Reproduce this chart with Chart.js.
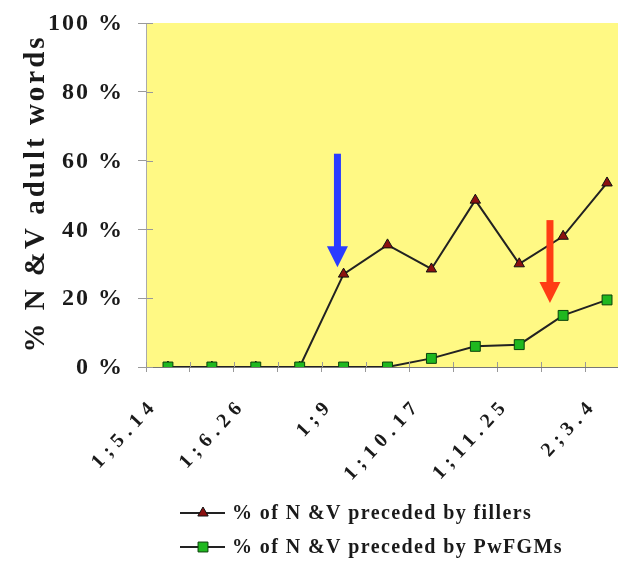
<!DOCTYPE html>
<html><head><meta charset="utf-8">
<script src="https://cdn.jsdelivr.net/npm/chart.js@4"></script>
<style>html,body{margin:0;padding:0;background:#fff;overflow:hidden;width:618px;height:565px}canvas{display:block}</style>
</head><body>
<canvas id="c" width="637" height="565"></canvas>
<script>
const categories = ['1;5.14','','1;6.26','','1;9','','1;10.17','','1;11.25','','2;3.4'];
const fillers = [0,0,0,0,27,35.5,28.5,48.5,30,38,53.5];
const pwfgms = [0,0,0,0,0,0,2.5,6,6.5,15,19.5];
const yTickValues = [0,20,40,60,80,100];
const yTickLabels = ['0 %','20 %','40 %','60 %','80 %','100 %'];
const seriesNames = ['% of N &V preceded by fillers','% of N &V preceded by PwFGMs'];
const yTitle = '% N &V adult words';
const arrowMarks = [
  {x: 3.86, from: 62, to: 29, color: '#2a3cff'},
  {x: 8.7, from: 42.7, to: 18.6, color: '#ff3c14'}
];

const SERIF = '"Liberation Serif", "Times New Roman", serif';
const TEXT = '#1a1a1a';

function spaced(ctx, px) {
  if ('letterSpacing' in ctx) { ctx.letterSpacing = px + 'px'; return px; }
  return 0;
}

const bgPlugin = {
  id: 'bg',
  beforeDraw(chart) {
    const {ctx, chartArea: a} = chart;
    ctx.save();
    ctx.fillStyle = '#fff984';
    ctx.fillRect(a.left, a.top, a.right - a.left, a.bottom - a.top);
    ctx.restore();
  }
};

const arrowPlugin = {
  id: 'arrows',
  afterDatasetsDraw(chart) {
    const {ctx, scales: {x, y}} = chart;
    ctx.save();
    arrowMarks.forEach(a => {
      const px = x.getPixelForValue(a.x);
      const y0 = y.getPixelForValue(a.from);
      const y1 = y.getPixelForValue(a.to);
      const headH = 21, headW = 21, shaftW = 7;
      ctx.fillStyle = a.color;
      ctx.fillRect(px - shaftW / 2, y0, shaftW, (y1 - headH) - y0 + 1);
      ctx.beginPath();
      ctx.moveTo(px - headW / 2, y1 - headH);
      ctx.lineTo(px + headW / 2, y1 - headH);
      ctx.lineTo(px, y1);
      ctx.closePath();
      ctx.fill();
    });
    ctx.restore();
  }
};

const textPlugin = {
  id: 'texts',
  afterDraw(chart) {
    const {ctx, chartArea: area, scales: {x, y}} = chart;
    ctx.save();
    ctx.strokeStyle = '#999';
    ctx.lineWidth = 1;
    yTickValues.forEach(v => {
      const py = Math.round(y.getPixelForValue(v)) + 0.5;
      ctx.beginPath(); ctx.moveTo(area.left, py); ctx.lineTo(area.left + 7, py); ctx.stroke();
    });
    for (let i = 0; i <= categories.length; i++) {
      const px = Math.round(x.getPixelForValue(i - 0.5)) + 0.5;
      ctx.beginPath(); ctx.moveTo(px, area.bottom - 5); ctx.lineTo(px, area.bottom); ctx.stroke();
    }
    ctx.restore();

    ctx.save();
    ctx.fillStyle = TEXT;
    ctx.font = 'bold 24px ' + SERIF;
    let L = spaced(ctx, 2);
    ctx.textAlign = 'right';
    ctx.textBaseline = 'middle';
    yTickValues.forEach((v, i) => {
      ctx.fillText(yTickLabels[i], 122 + L, y.getPixelForValue(v) + 1);
    });
    ctx.restore();

    ctx.save();
    ctx.fillStyle = TEXT;
    ctx.font = 'bold 29px ' + SERIF;
    L = spaced(ctx, 3);
    ctx.translate(44, (area.top + area.bottom) / 2);
    ctx.rotate(-Math.PI / 2);
    ctx.textAlign = 'center';
    ctx.textBaseline = 'alphabetic';
    ctx.fillText(yTitle, L / 2, 0);
    ctx.restore();

    ctx.save();
    ctx.fillStyle = TEXT;
    ctx.font = 'bold 20px ' + SERIF;
    L = spaced(ctx, 6);
    categories.forEach((lab, i) => {
      if (!lab) return;
      const px = x.getPixelForValue(i);
      ctx.save();
      ctx.translate(px - 17, area.bottom + 39);
      ctx.rotate(-47 * Math.PI / 180);
      ctx.textAlign = 'right';
      ctx.textBaseline = 'middle';
      ctx.fillText(lab, L, 0);
      ctx.restore();
    });
    ctx.restore();

    ctx.save();
    const rows = [513, 547];
    chart.data.datasets.slice().sort((a, b) => a.legendIndex - b.legendIndex).forEach((ds, i) => {
      const yy = rows[i];
      ctx.strokeStyle = '#222';
      ctx.lineWidth = 2;
      ctx.beginPath();
      ctx.moveTo(180, yy);
      ctx.lineTo(225, yy);
      ctx.stroke();
      ctx.fillStyle = ds.pointBackgroundColor;
      ctx.strokeStyle = ds.pointBorderColor;
      ctx.lineWidth = 1;
      Chart.helpers.drawPoint(ctx, {pointStyle: ds.pointStyle, radius: ds.pointRadius, borderWidth: 1}, 203, yy);
      ctx.save();
      ctx.fillStyle = TEXT;
      ctx.font = 'bold 20px ' + SERIF;
      spaced(ctx, 1.4);
      ctx.textBaseline = 'middle';
      ctx.textAlign = 'left';
      ctx.fillText(ds.label, 232, yy + 1);
      ctx.restore();
    });
    ctx.restore();
  }
};

new Chart(document.getElementById('c'), {
  type: 'line',
  data: {
    labels: categories,
    datasets: [
      {
        label: seriesNames[1], legendIndex: 1, data: pwfgms,
        borderColor: '#222', borderWidth: 2, tension: 0,
        pointStyle: 'rect', pointRadius: 7, pointHoverRadius: 7,
        pointBackgroundColor: '#1fb81f', pointBorderColor: '#0a400a', pointBorderWidth: 1
      },
      {
        label: seriesNames[0], legendIndex: 0, data: fillers,
        borderColor: '#222', borderWidth: 2, tension: 0,
        pointStyle: 'triangle', pointRadius: 6, pointHoverRadius: 6,
        pointBackgroundColor: '#8b1010', pointBorderColor: '#111', pointBorderWidth: 1
      }
    ]
  },
  options: {
    responsive: false,
    animation: false,
    events: [],
    layout: {padding: {top: 23, right: 1, left: 0, bottom: 0}},
    plugins: {legend: {display: false}, tooltip: {enabled: false}},
    scales: {
      x: {
        offset: true,
        grid: {offset: true, drawOnChartArea: false, tickLength: 5, color: '#999'},
        border: {color: '#777', width: 1},
        ticks: {display: false, autoSkip: false},
        afterFit(s) { s.height = 198; s.paddingLeft = 0; s.paddingRight = 0; }
      },
      y: {
        min: 0, max: 100,
        grid: {drawOnChartArea: false, tickLength: 8, color: '#999'},
        border: {color: '#aaa', width: 1},
        ticks: {display: false, stepSize: 20},
        afterFit(s) { s.width = 146; }
      }
    }
  },
  plugins: [bgPlugin, arrowPlugin, textPlugin]
});
</script>
</body></html>
